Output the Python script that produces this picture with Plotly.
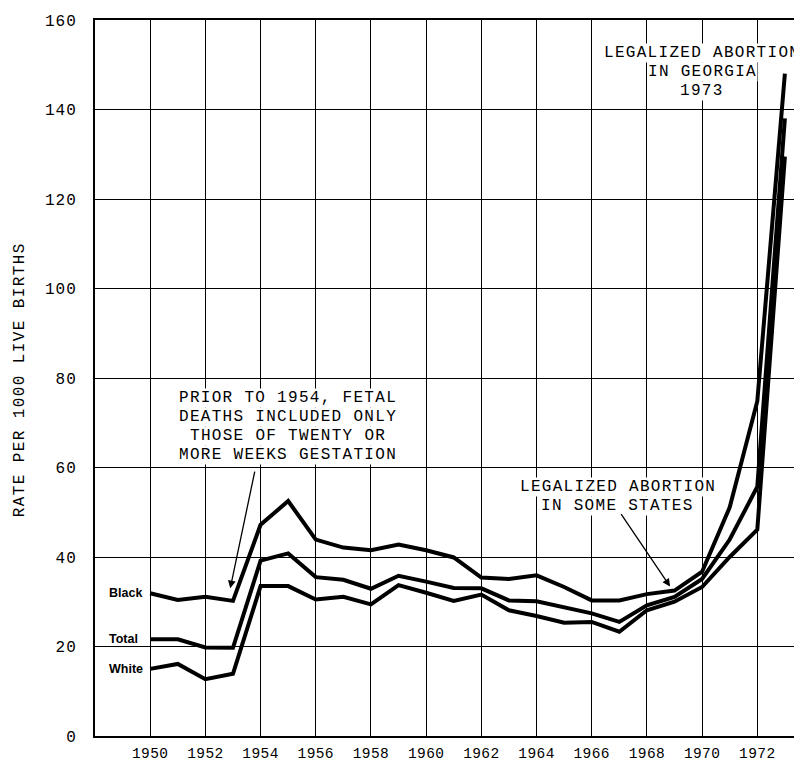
import plotly.graph_objects as go

# ---- data ----
years = list(range(1950, 1974))
black = [31.9, 30.4, 31.1, 30.2, 47.2, 52.5, 43.9, 42.1, 41.5, 42.8, 41.5, 39.9,
         35.4, 35.1, 35.9, 33.3, 30.3, 30.3, 31.7, 32.5, 36.7, 51.1, 74.8, 148.0]
total = [21.6, 21.6, 19.8, 19.7, 39.2, 40.8, 35.5, 34.9, 32.9, 35.8, 34.5, 33.1,
         33.0, 30.3, 30.1, 28.7, 27.4, 25.5, 29.2, 31.1, 35.1, 43.9, 55.7, 138.0]
white = [15.0, 16.1, 12.7, 13.9, 33.5, 33.5, 30.5, 31.1, 29.4, 33.7, 32.0, 30.2,
         31.6, 28.1, 26.8, 25.3, 25.5, 23.3, 28.1, 30.0, 33.3, 40.0, 46.1, 129.5]
series_names = ["Black", "Total", "White"]
x_tick_years = list(range(1950, 1973, 2))
y_ticks = list(range(0, 161, 20))

note1_lines = ["PRIOR TO 1954, FETAL", "DEATHS INCLUDED ONLY",
               "THOSE OF TWENTY OR", "MORE WEEKS GESTATION"]
note2_lines = ["LEGALIZED ABORTION", "IN SOME STATES"]
note3_lines = ["LEGALIZED ABORTION", "IN GEORGIA", "1973"]

MONO = "Liberation Mono"


def spaced(s, px):
    return f'<span style="letter-spacing:{px}px">{s}</span>'


fig = go.Figure()
for name, vals in zip(series_names, [black, total, white]):
    fig.add_trace(go.Scatter(x=years, y=vals, mode="lines", name=name,
                             line=dict(color="black", width=4),
                             showlegend=False, hoverinfo="skip"))
    fig.add_annotation(x=1948.44, y=vals[0], text=f"<b>{name}</b>", showarrow=False,
                       xanchor="left", yanchor="middle",
                       font=dict(family="Liberation Sans", size=12.5, color="black"))


def add_note(lines, xc, ys):
    for t, yv in zip(lines, ys):
        fig.add_annotation(x=xc, y=yv, xref="x", yref="y", showarrow=False,
                           text=spaced(t, 1.3),
                           font=dict(family=MONO, size=16, color="black"),
                           bgcolor="white", borderpad=0,
                           xanchor="center", yanchor="middle")


add_note(note1_lines, 1955.01, [75.45, 71.2, 66.95, 62.7])
add_note(note2_lines, 1966.94, [55.56, 51.31])
add_note(note3_lines, 1970.0, [152.6, 148.35, 144.1])

# arrows
fig.add_annotation(x=1952.9, y=33.0, ax=1953.8, ay=59.4, axref="x", ayref="y",
                   xref="x", yref="y", text="", showarrow=True, arrowhead=2,
                   arrowsize=1.2, arrowwidth=1.3, arrowcolor="black")
fig.add_annotation(x=1968.84, y=33.4, ax=1967.03, ay=49.9, axref="x", ayref="y",
                   xref="x", yref="y", text="", showarrow=True, arrowhead=2,
                   arrowsize=1.2, arrowwidth=1.3, arrowcolor="black")

# y title
fig.add_annotation(x=-0.106, y=0.497, xref="paper", yref="paper", showarrow=False,
                   text=spaced("RATE PER 1000 LIVE BIRTHS", 1.4), textangle=-90,
                   font=dict(family=MONO, size=16, color="black"),
                   xanchor="center", yanchor="middle")

fig.update_layout(
    width=794, height=759,
    margin=dict(l=87, r=0, t=12, b=31),
    paper_bgcolor="white", plot_bgcolor="white",
    xaxis=dict(range=[1948, 1973.62], tickvals=x_tick_years,
               ticktext=[spaced(str(v), 0.4) for v in x_tick_years],
               showgrid=True, gridcolor="black", gridwidth=1,
               showline=True, linecolor="black", linewidth=2, mirror=True,
               ticks="", ticklabelstandoff=3, zeroline=False,
               tickfont=dict(family=MONO, size=14.5, color="black")),
    yaxis=dict(range=[0, 160], tickvals=y_ticks,
               ticktext=[spaced(str(v), 1) for v in y_ticks],
               showgrid=True, gridcolor="black", gridwidth=1,
               showline=True, linecolor="black", linewidth=2, mirror=False,
               ticks="", ticklabelstandoff=13, zeroline=False,
               tickfont=dict(family=MONO, size=16, color="black")),
)

fig.write_html("out.html")
